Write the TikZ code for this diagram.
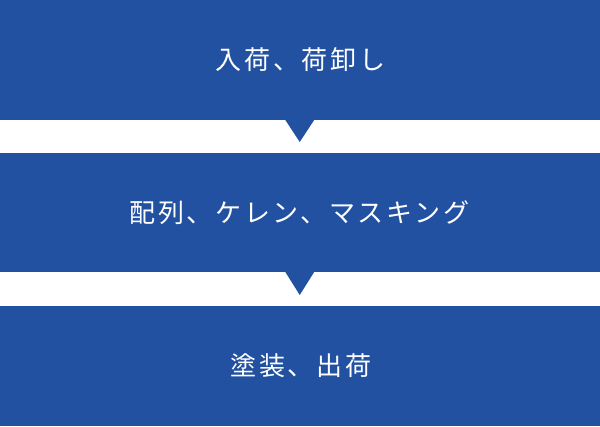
\documentclass[tikz,border=0pt]{standalone}
\usepackage{fontspec}
\newfontfamily\jpfont[LetterSpace=11]{Noto Sans CJK JP}
\definecolor{boxblue}{RGB}{35,81,162}
\begin{document}
\begin{tikzpicture}[x=1pt,y=-1pt,
  band/.style={fill=boxblue,draw=none},
  lbl/.style={text=white,font=\jpfont\fontsize{26}{30}\selectfont,inner sep=0pt,anchor=center},
  pointer/.style={fill=boxblue,draw=none}]
\useasboundingbox (0,0) rectangle (600,426);
\fill[white] (0,0) rectangle (600,426);
\path[band] (0,0) rectangle (600,120);
\path[band] (0,153) rectangle (600,272);
\path[band] (0,306) rectangle (600,426);
\path[pointer] (285,119.5) -- (314.5,119.5) -- (299.75,142) -- cycle;
\path[pointer] (285,271.5) -- (314.5,271.5) -- (299.75,295) -- cycle;
\node[lbl] (t1) at (300.5,60) {入荷、荷卸し};
\node[lbl] (t2) at (299.5,212.5) {配列、ケレン、マスキング};
\node[lbl] (t3) at (301,366) {塗装、出荷};
\end{tikzpicture}
\end{document}
